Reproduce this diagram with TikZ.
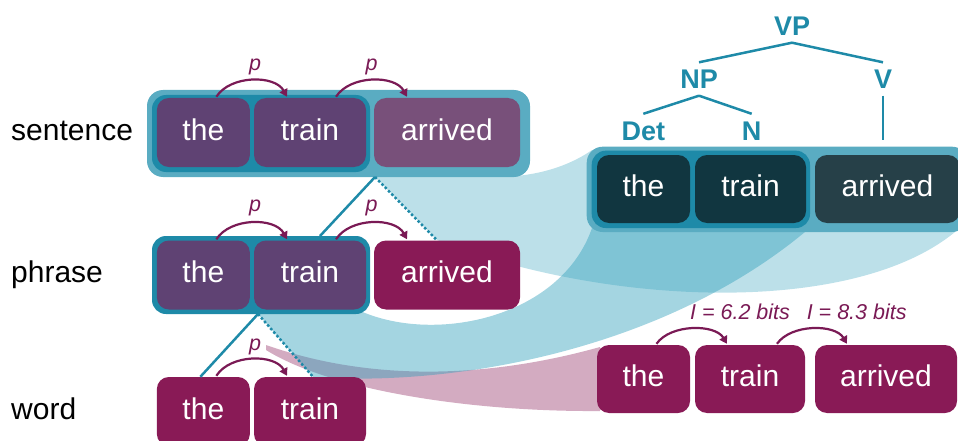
\documentclass[tikz,border=0pt]{standalone}
\usepackage{fontspec}
\setmainfont{Liberation Sans}
\usetikzlibrary{arrows.meta}
\definecolor{lteal}{RGB}{90,172,194}
\definecolor{tealc}{RGB}{30,138,168}
\definecolor{purp}{RGB}{95,66,115}
\definecolor{purpl}{RGB}{120,80,122}
\definecolor{mag}{RGB}{137,26,86}
\definecolor{darkA}{RGB}{17,54,64}
\definecolor{darkB}{RGB}{38,64,72}
\definecolor{arrowc}{RGB}{122,26,85}
\definecolor{ribb}{RGB}{54,162,189}
\begin{document}
\begin{tikzpicture}[x=1pt,y=-1pt,
  wbox/.style={rounded corners=12pt, minimum height=69pt, inner sep=0pt, text=white,
    font=\fontsize{30}{36}\selectfont, text height=21.5pt, text depth=6.5pt},
  lvl/.style={anchor=west, inner sep=0pt, text=black,
    font=\fontsize{30}{36}\selectfont, text height=21.5pt, text depth=6.5pt},
  frameout/.style={fill=lteal, rounded corners=16pt, inner sep=0pt},
  framein/.style={fill=tealc, rounded corners=14pt, inner sep=0pt},
  arr/.style={draw=arrowc, line width=2.2pt, -{Triangle[length=7.5pt,width=8.5pt]}},
  plab/.style={text=arrowc, inner sep=0pt, font=\fontsize{21.5}{26}\selectfont\itshape},
  tlab/.style={text=tealc, inner sep=7pt, text height=19pt, text depth=0pt,
    font=\fontsize{27}{32}\selectfont\bfseries},
  tline/.style={draw=tealc, line width=2.5pt},
  tdot/.style={draw=tealc, line width=2.5pt, dash pattern=on 2.5pt off 2.2pt},
]
\useasboundingbox (0,0) rectangle (958,441);
\clip (0,0) rectangle (958,441);

% ribbons
\fill[mag, fill opacity=0.37] (266,345) .. controls (380,385) and (500,375) .. (600,347)
  -- (600,411) .. controls (470,412) and (330,390) .. (266,350) -- cycle;
\fill[ribb, fill opacity=0.45] (258,314) -- (313,377) .. controls (450,387) and (660,352) .. (805,232)
  -- (592,228) .. controls (560,320) and (430,345) .. (356,309) -- cycle;
\fill[ribb, fill opacity=0.333] (375,177) -- (437,240) .. controls (600,305) and (850,318) .. (955,232)
  -- (955,150) -- (592,150) .. controls (575,162) and (545,176) .. (500,177) -- cycle;

% frames
\node[frameout, minimum width=383pt, minimum height=87pt] (sout) at (338.5,133.5) {};
\node[framein, minimum width=218pt, minimum height=77pt] (sin) at (261,133.5) {};
\node[framein, minimum width=218pt, minimum height=78pt] (pin) at (261,275) {};
\node[frameout, minimum width=381.3pt, minimum height=85.3pt] (rout) at (777.35,189.35) {};
\node[framein, minimum width=218.3pt, minimum height=77.3pt] (rin) at (700.85,189.35) {};

% level labels
\node[lvl] (lsent) at (11,132.5) {sentence};
\node[lvl] (lphr) at (11,275) {phrase};
\node[lvl] (lword) at (11,411.5) {word};

% sentence row
\node[wbox, fill=purp, minimum width=93pt] (s1) at (203.35,132.5) {the};
\node[wbox, fill=purp, minimum width=112pt] (s2) at (310,132.5) {train};
\node[wbox, fill=purpl, minimum width=146pt] (s3) at (447,132.5) {arrived};
% phrase row
\node[wbox, fill=purp, minimum width=93pt] (p1) at (203.35,275) {the};
\node[wbox, fill=purp, minimum width=112pt] (p2) at (310,275) {train};
\node[wbox, fill=mag, minimum width=146pt] (p3) at (447,275) {arrived};
% word row
\node[wbox, fill=mag, minimum width=93pt] (w1) at (203.35,411.5) {the};
\node[wbox, fill=mag, minimum width=112pt] (w2) at (310,411.5) {train};

% right sentence box
\node[wbox, fill=darkA, minimum width=93pt, minimum height=68pt] (r1) at (643.5,189) {the};
\node[wbox, fill=darkA, minimum width=111pt, minimum height=68pt] (r2) at (750.5,189) {train};
\node[wbox, fill=darkB, minimum width=145pt, minimum height=68pt] (r3) at (887.5,189) {arrived};
% right word row
\node[wbox, fill=mag, minimum width=93pt, minimum height=68pt] (q1) at (643.5,379) {the};
\node[wbox, fill=mag, minimum width=110pt, minimum height=68pt] (q2) at (750,379) {train};
\node[wbox, fill=mag, minimum width=142pt, minimum height=68pt] (q3) at (886,379) {arrived};

% tree
\node[tlab] (VP) at (792,26) {VP};
\node[tlab] (NP) at (699,79) {NP};
\node[tlab] (V) at (883,79) {V};
\node[tlab] (Det) at (643.3,130.5) {Det};
\node[tlab] (N) at (751.7,130.5) {N};
\coordinate (vend) at (883,140);
\draw[tline] (VP.south) -- (NP.north);
\draw[tline] (VP.south) -- (V.north);
\draw[tline] (NP.south) -- (Det.north);
\draw[tline] (NP.south) -- (N.north);
\draw[tline] (V.south) -- (vend);

% left tree lines
\coordinate (sapex) at (375,177);
\coordinate (papex) at (258,314);
\coordinate (sleft) at (320,236);
\draw[tline] (sapex) -- (sleft);
\draw[tdot] (sapex) -- ([xshift=-10pt]p3.north);
\draw[tline] (papex) -- ([xshift=-3pt]w1.north);
\draw[tdot] (papex) -- ([xshift=3pt]w2.north);

% arrows with p
\draw[arr] ([xshift=13pt,yshift=1pt]s1.north) .. controls +(14,-22) and +(-12,-22) .. ([xshift=-23pt,yshift=1pt]s2.north);
\draw[arr] ([xshift=26pt,yshift=1pt]s2.north) .. controls +(14,-22) and +(-12,-22) .. ([xshift=-40pt,yshift=1pt]s3.north);
\node[plab] (ps1) at (255,67) {p};
\node[plab] (ps2) at (371.7,67) {p};
\draw[arr] ([xshift=13pt,yshift=1pt]p1.north) .. controls +(14,-22) and +(-12,-22) .. ([xshift=-23pt,yshift=1pt]p2.north);
\draw[arr] ([xshift=26pt,yshift=1pt]p2.north) .. controls +(14,-22) and +(-12,-22) .. ([xshift=-40pt,yshift=1pt]p3.north);
\node[plab] (pp1) at (255,208) {p};
\node[plab] (pp2) at (371.7,208) {p};
\draw[arr] ([xshift=13pt,yshift=1pt]w1.north) .. controls +(14,-22) and +(-12,-22) .. ([xshift=-23pt,yshift=1pt]w2.north);
\node[plab] (pw1) at (255,347) {p};

% information arrows
\draw[arr] ([xshift=13pt,yshift=1pt]q1.north) .. controls +(14,-20) and +(-12,-20) .. ([xshift=-23pt,yshift=1pt]q2.north);
\draw[arr] ([xshift=27pt,yshift=1pt]q2.north) .. controls +(14,-20) and +(-12,-20) .. ([xshift=-39pt,yshift=1pt]q3.north);
\node[plab] (i1) at (740,311.7) {I = 6.2 bits};
\node[plab] (i2) at (856.7,311.7) {I = 8.3 bits};
\end{tikzpicture}
\end{document}
